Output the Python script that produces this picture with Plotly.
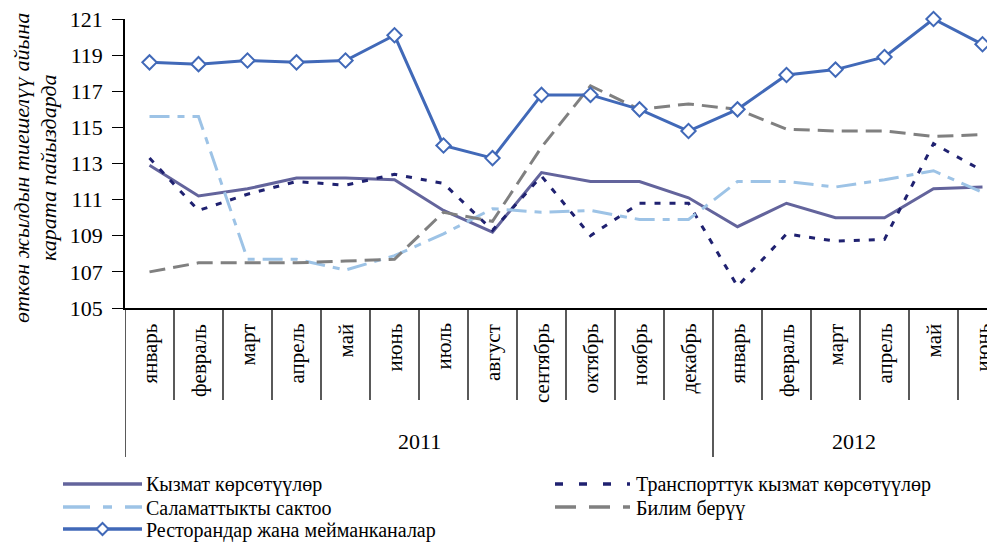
import plotly.graph_objects as go

# Данные
months = ["январь", "февраль", "март", "апрель", "май", "июнь", "июль", "август",
          "сентябрь", "октябрь", "ноябрь", "декабрь",
          "январь", "февраль", "март", "апрель", "май", "июнь"]
years = ["2011", "2012"]
months_per_year = [12, 6]

kyzmat = [112.9, 111.2, 111.6, 112.2, 112.2, 112.1, 110.4, 109.2, 112.5, 112.0, 112.0, 111.1,
          109.5, 110.8, 110.0, 110.0, 111.6, 111.7]
transport = [113.3, 110.4, 111.3, 112.0, 111.8, 112.4, 111.9, 109.3, 112.3, 109.0, 110.8, 110.8,
             106.2, 109.1, 108.7, 108.8, 114.1, 112.6]
salamat = [115.6, 115.6, 107.7, 107.7, 107.1, 107.9, 109.1, 110.5, 110.3, 110.4, 109.9, 109.9,
           112.0, 112.0, 111.7, 112.1, 112.6, 111.4]
bilim = [107.0, 107.5, 107.5, 107.5, 107.6, 107.7, 110.3, 109.8, 113.9, 117.3, 116.0, 116.3,
         116.0, 114.9, 114.8, 114.8, 114.5, 114.6]
restoran = [118.6, 118.5, 118.7, 118.6, 118.7, 120.1, 114.0, 113.3, 116.8, 116.8, 116.0, 114.8,
            116.0, 117.9, 118.2, 118.9, 121.0, 119.6]

FONT = "'Liberation Serif', 'Times New Roman', Times, serif"
OFF = 8  # отступ body страницы
W, H = 995 - OFF, 542 - OFF
L, R, T, B = 125 - OFF, 0, 19 - OFF, 234
PW, PH = W - L - R, H - T - B
x_max = 17.255


def px(v):  # экранные пиксели -> paper x
    return (v - OFF - L) / PW


def py(v):  # экранные пиксели -> paper y
    return (H - B - (v - OFF)) / PH


# серии: имя, данные, цвет, штрих в графике, штрих в легенде, колонка, строка
series = [
    ("Кызмат көрсөтүүлөр", kyzmat, "#63649c", "solid", "solid", 0, 0),
    ("Транспорттук кызмат көрсөтүүлөр", transport, "#1f2170", "6px,9px", "8px,16px", 1, 0),
    ("Саламаттыкты сактоо", salamat, "#9dc3e6", "20px,8px,7px,8px", "27px,13px,9px,13px", 0, 1),
    ("Билим берүү", bilim, "#808080", "16px,8px", "21px,13px", 1, 1),
    ("Ресторандар жана мейманканалар", restoran, "#4169b8", "solid", "solid", 0, 2),
]

x = list(range(len(months)))
fig = go.Figure()
for name, vals, col, dash, _, _, _ in series:
    is_rest = vals is restoran
    fig.add_trace(go.Scatter(
        x=x, y=vals, name=name, showlegend=False, cliponaxis=False,
        mode="lines+markers" if is_rest else "lines",
        line=dict(color=col, width=3, dash=dash),
        marker=dict(symbol="diamond", size=11, color="white", line=dict(color=col, width=2)),
    ))

shapes = []
annotations = []

# Разделители месяцев и годов под осью
year_bounds = [-0.5]
acc = 0
for n in months_per_year:
    acc += n
    year_bounds.append(acc - 0.5)
for i in range(len(months)):
    b = i - 0.5
    shapes.append(dict(type="line", xref="x", yref="paper", x0=b, x1=b,
                       y0=0, y1=py(457) if b in year_bounds else py(400),
                       line=dict(color="black", width=1.3)))

for i, m in enumerate(months):
    annotations.append(dict(x=i, y=py(322), xref="x", yref="paper", text=m, textangle=-90,
                            showarrow=False, xanchor="center", yanchor="top",
                            font=dict(family=FONT, size=21, color="black")))
for k, yr in enumerate(years):
    lo = year_bounds[k]
    hi = min(year_bounds[k + 1], x_max)
    annotations.append(dict(x=(lo + hi) / 2, y=py(441), xref="x", yref="paper", text=yr,
                            showarrow=False, xanchor="center", yanchor="middle",
                            font=dict(family=FONT, size=22, color="black")))

# Подпись оси Y (две строки)
for txt, cx in [("өткөн жылдын тиешелүү айына", 21), ("карата пайыздарда", 48)]:
    annotations.append(dict(x=px(cx), y=py(168), xref="paper", yref="paper",
                            text="<i>" + txt + "</i>", textangle=-90, showarrow=False,
                            xanchor="center", yanchor="middle",
                            font=dict(family=FONT, size=22, color="black")))

# Легенда вручную
col_x = [(63, 142, 145), (555, 630, 635)]
row_y = [484, 507, 529]
for name, vals, col, _, ldash, c, r in series:
    x0, x1, tx = col_x[c]
    yy = row_y[r]
    shapes.append(dict(type="line", xref="paper", yref="paper",
                       x0=px(x0), x1=px(x1), y0=py(yy), y1=py(yy),
                       line=dict(color=col, width=3.5, dash=ldash)))
    if vals is restoran:
        cx, d = (x0 + x1) / 2, 6
        path = "M {} {} L {} {} L {} {} L {} {} Z".format(
            px(cx - d), py(yy), px(cx), py(yy - d), px(cx + d), py(yy), px(cx), py(yy + d))
        shapes.append(dict(type="path", xref="paper", yref="paper", path=path,
                           fillcolor="white", line=dict(color=col, width=2)))
    annotations.append(dict(x=px(tx), y=py(yy + 1), xref="paper", yref="paper", text=name,
                            showarrow=False, xanchor="left", yanchor="middle", borderpad=0,
                            font=dict(family=FONT, size=20, color="black")))

fig.update_layout(
    width=W, height=H,
    margin=dict(l=L, r=R, t=T, b=B),
    paper_bgcolor="white", plot_bgcolor="white",
    font=dict(family=FONT, color="black"),
    showlegend=False,
    xaxis=dict(range=[-0.5, x_max], showticklabels=False, ticks="", showgrid=False,
               zeroline=False, showline=True, linecolor="black", linewidth=1.5),
    yaxis=dict(range=[105, 121.001], tickvals=list(range(105, 122, 2)), ticks="outside",
               ticklen=11, tickwidth=1.3, tickcolor="black", showgrid=False, zeroline=False,
               showline=True, linecolor="black", linewidth=1.5, ticklabelstandoff=5,
               ticklabeloverflow="allow",
               tickfont=dict(family=FONT, size=22, color="black")),
    shapes=shapes,
    annotations=annotations,
)

fig.write_html("out.html")
